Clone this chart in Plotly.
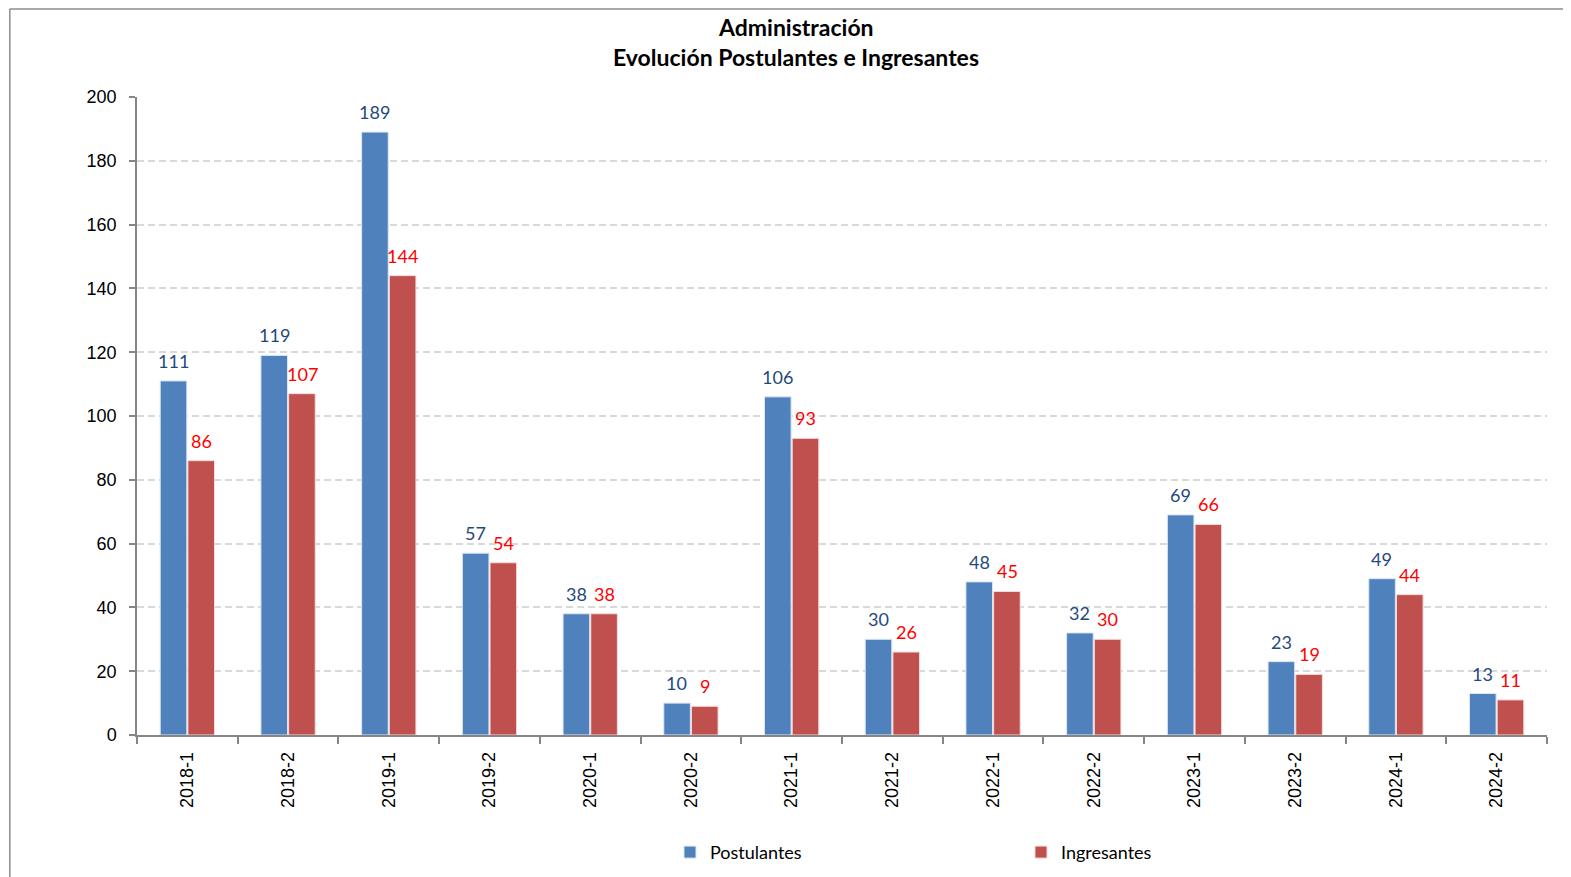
import plotly.graph_objects as go

categories = ["2018-1", "2018-2", "2019-1", "2019-2", "2020-1", "2020-2", "2021-1",
              "2021-2", "2022-1", "2022-2", "2023-1", "2023-2", "2024-1", "2024-2"]
postulantes = [111, 119, 189, 57, 38, 10, 106, 30, 48, 32, 69, 23, 49, 13]
ingresantes = [86, 107, 144, 54, 38, 9, 93, 26, 45, 30, 66, 19, 44, 11]
title_lines = ["Administración", "Evolución Postulantes e Ingresantes"]

BLUE = "#4F81BD"
RED = "#C0504D"
BLUE_TXT = "#1F497D"
RED_TXT = "#FF0000"
LABEL_FONT = "Lato, 'Open Sans', sans-serif"
TICK_FONT = "Liberation Sans, Arial, sans-serif"

fig = go.Figure()
fig.add_trace(go.Bar(name="Postulantes", x=categories, y=postulantes,
                     marker=dict(color=BLUE, line=dict(color="#DCE6F2", width=1))))
fig.add_trace(go.Bar(name="Ingresantes", x=categories, y=ingresantes,
                     marker=dict(color=RED, line=dict(color="#F2DCDB", width=1))))

annotations = []
for c, v in zip(categories, postulantes):
    annotations.append(dict(x=c, y=v, text=str(v), showarrow=False, xref="x", yref="y",
                            xanchor="center", yanchor="bottom", xshift=-14, yshift=7,
                            font=dict(family=LABEL_FONT, size=18, color=BLUE_TXT)))
for c, v in zip(categories, ingresantes):
    annotations.append(dict(x=c, y=v, text=str(v), showarrow=False, xref="x", yref="y",
                            xanchor="center", yanchor="bottom", xshift=14, yshift=7,
                            font=dict(family=LABEL_FONT, size=18, color=RED_TXT)))
for txt, yy in zip(title_lines, [1.1099, 1.0628]):
    annotations.append(dict(x=0.4674, y=yy, xref="paper", yref="paper", text="<b>" + txt + "</b>",
                            showarrow=False, xanchor="center", yanchor="middle",
                            font=dict(family=LABEL_FONT, size=23, color="black")))

fig.update_layout(
    width=1571, height=877,
    margin=dict(l=129, r=32, t=89, b=150, autoexpand=False),
    paper_bgcolor="white", plot_bgcolor="white",
    barmode="group", bargap=0.45, bargroupgap=0.04,
    font=dict(family=TICK_FONT, size=18, color="black"),
    showlegend=True,
    legend=dict(orientation="h", x=0.378, xanchor="left", y=-0.155, yanchor="top",
                entrywidth=306, entrywidthmode="pixels",
                font=dict(family=LABEL_FONT, size=18, color="black"),
                itemwidth=30, bgcolor="rgba(0,0,0,0)"),
    annotations=annotations,
    shapes=[
        dict(type="line", xref="paper", yref="paper", x0=-0.0902, x1=1.1, y0=1.1379, y1=1.1379,
             line=dict(color="#8C8C8C", width=1.5)),
        dict(type="line", xref="paper", yref="paper", x0=-0.0902, x1=-0.0902, y0=1.1379, y1=-0.3,
             line=dict(color="#8C8C8C", width=1.5)),
    ],
)

fig.update_yaxes(range=[0, 200], dtick=20, showgrid=True, gridcolor="#D9D9D9",
                 griddash="7px,4px", gridwidth=1.5,
                 showline=True, linecolor="#868686", linewidth=1.5,
                 ticks="outside", ticklen=6, tickcolor="#868686", tickwidth=1.5,
                 ticklabelstandoff=9,
                 zeroline=False, tickfont=dict(family=TICK_FONT, size=18))
fig.update_xaxes(type="category", showline=True, linecolor="#868686", linewidth=1.5,
                 ticks="outside", ticklen=7, tickcolor="#868686", tickwidth=1.5,
                 ticklabelstandoff=8,
                 tickson="boundaries", tickangle=-90, showgrid=False,
                 tickfont=dict(family=TICK_FONT, size=18))

fig.write_html("out.html")
